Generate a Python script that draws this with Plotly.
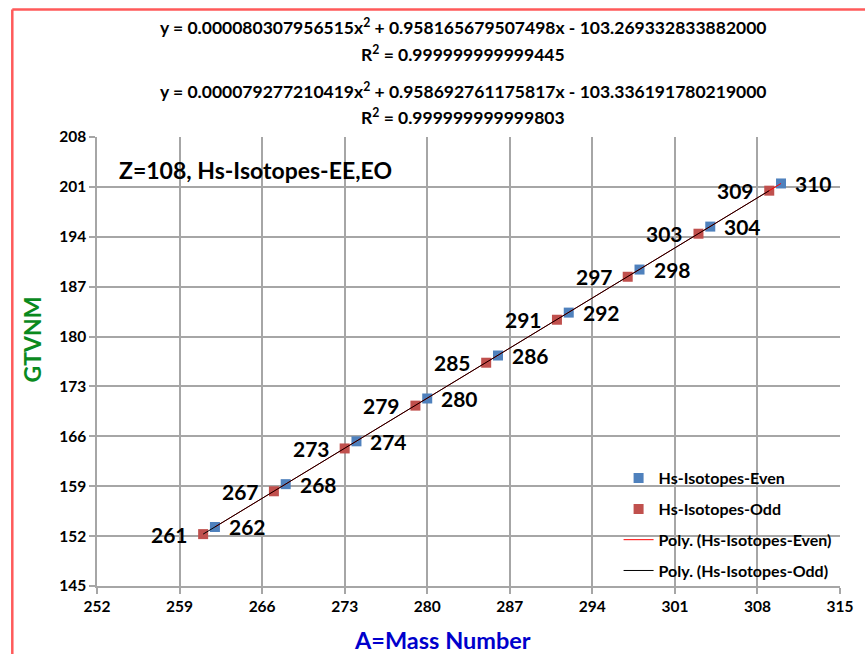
import plotly.graph_objects as go

# ---- data ----
even_a = [262, 268, 274, 280, 286, 292, 298, 304, 310]
even_v = [153.28, 159.29, 165.30, 171.31, 177.34, 183.36, 189.40, 195.43, 201.48]
odd_a = [261, 267, 273, 279, 285, 291, 297, 303, 309]
odd_v = [152.28, 158.29, 164.30, 170.31, 176.33, 182.36, 188.39, 194.43, 200.47]
even_labels = [str(a) for a in even_a]
odd_labels = [str(a) for a in odd_a]

x_ticks = [252, 259, 266, 273, 280, 287, 294, 301, 308, 315]
y_ticks = [145, 152, 159, 166, 173, 180, 187, 194, 201, 208]

eq_even = "y = 0.000080307956515x<sup>2</sup> + 0.958165679507498x - 103.269332833882000"
r2_even = "R<sup>2</sup> = 0.999999999999445"
eq_odd = "y = 0.000079277210419x<sup>2</sup> + 0.958692761175817x - 103.336191780219000"
r2_odd = "R<sup>2</sup> = 0.999999999999803"

FONT = "Lato"
BLUE = "#4f81bd"
RED = "#c0504d"
GRID = "#a6a6a6"

fig = go.Figure()

fig.add_trace(go.Scatter(
    x=even_a, y=even_v, mode="markers", name="Hs-Isotopes-Even",
    marker=dict(symbol="square", size=10, color=BLUE), legendgroup="a"))
fig.add_trace(go.Scatter(
    x=odd_a, y=odd_v, mode="markers", name="Hs-Isotopes-Odd",
    marker=dict(symbol="square", size=10, color=RED), legendgroup="b"))
fig.add_trace(go.Scatter(
    x=even_a, y=even_v, mode="lines", name="Poly. (Hs-Isotopes-Even)",
    line=dict(color="#ff0000", width=1), legendgroup="c"))
fig.add_trace(go.Scatter(
    x=odd_a, y=odd_v, mode="lines", name="Poly. (Hs-Isotopes-Odd)",
    line=dict(color="black", width=1), legendgroup="d"))

axis_common = dict(
    showgrid=True, gridcolor=GRID, gridwidth=1.5,
    showline=True, linecolor=GRID, linewidth=1.5,
    ticks="outside", ticklen=6, tickcolor=GRID, tickwidth=1.5,
    tickfont=dict(family=FONT, size=15.5, color="black", weight="bold"),
    zeroline=False,
)

fig.update_xaxes(range=[252, 315], tickvals=x_ticks, ticktext=[str(v) for v in x_ticks],
                 **axis_common)
fig.update_yaxes(range=[145, 208], tickvals=y_ticks, ticktext=[str(v) for v in y_ticks],
                 **axis_common)

anns = []
def ann(text, x, y, size, color="black", angle=0, xanchor="center", yanchor="middle"):
    anns.append(dict(text="<b>" + text + "</b>", x=x, y=y, xref="paper", yref="paper",
                     showarrow=False, xanchor=xanchor, yanchor=yanchor, textangle=angle,
                     font=dict(family=FONT, size=size, color=color)))

ann(eq_even, 0.493, 1.245, 17.5)
ann(r2_even, 0.493, 1.186, 17.5)
ann(eq_odd, 0.493, 1.103, 17.5)
ann(r2_odd, 0.493, 1.045, 17.5)
ann("Z=108, Hs-Isotopes-EE,EO", 0.027, 0.926, 23, xanchor="left")
ann("A=Mass Number", 0.465, -0.120, 23.5, color="#0000cc")
ann("GTVNM", -0.087, 0.55, 23, color="#0a8a1e", angle=-90)

# data labels positioned through the data coordinates
for a, v, t in zip(even_a, even_v, even_labels):
    anns.append(dict(text="<b>" + t + "</b>", x=a, y=v, xref="x", yref="y", showarrow=False,
                     xanchor="left", yanchor="middle", xshift=12,
                     font=dict(family=FONT, size=21, color="black")))
for a, v, t in zip(odd_a, odd_v, odd_labels):
    anns.append(dict(text="<b>" + t + "</b>", x=a, y=v, xref="x", yref="y", showarrow=False,
                     xanchor="right", yanchor="middle", xshift=-13,
                     font=dict(family=FONT, size=21, color="black")))

fig.update_layout(
    width=865, height=654,
    margin=dict(l=97, r=18, t=137, b=68),
    paper_bgcolor="white", plot_bgcolor="white",
    annotations=anns,
    showlegend=True,
    legend=dict(x=0.702, y=0.278, xanchor="left", yanchor="top",
                bgcolor="rgba(0,0,0,0)", tracegroupgap=7,
                font=dict(family=FONT, size=16, color="black", weight="bold")),
    shapes=[
        dict(type="line", xref="paper", yref="paper", x0=-0.114, x1=1.1, y0=1.284, y1=1.284,
             line=dict(color="#ff5a5a", width=2.5)),
        dict(type="line", xref="paper", yref="paper", x0=-0.114, x1=-0.114, y0=-0.2, y1=1.284,
             line=dict(color="#ff5a5a", width=2.5)),
    ],
)

fig.write_html("out.html")
